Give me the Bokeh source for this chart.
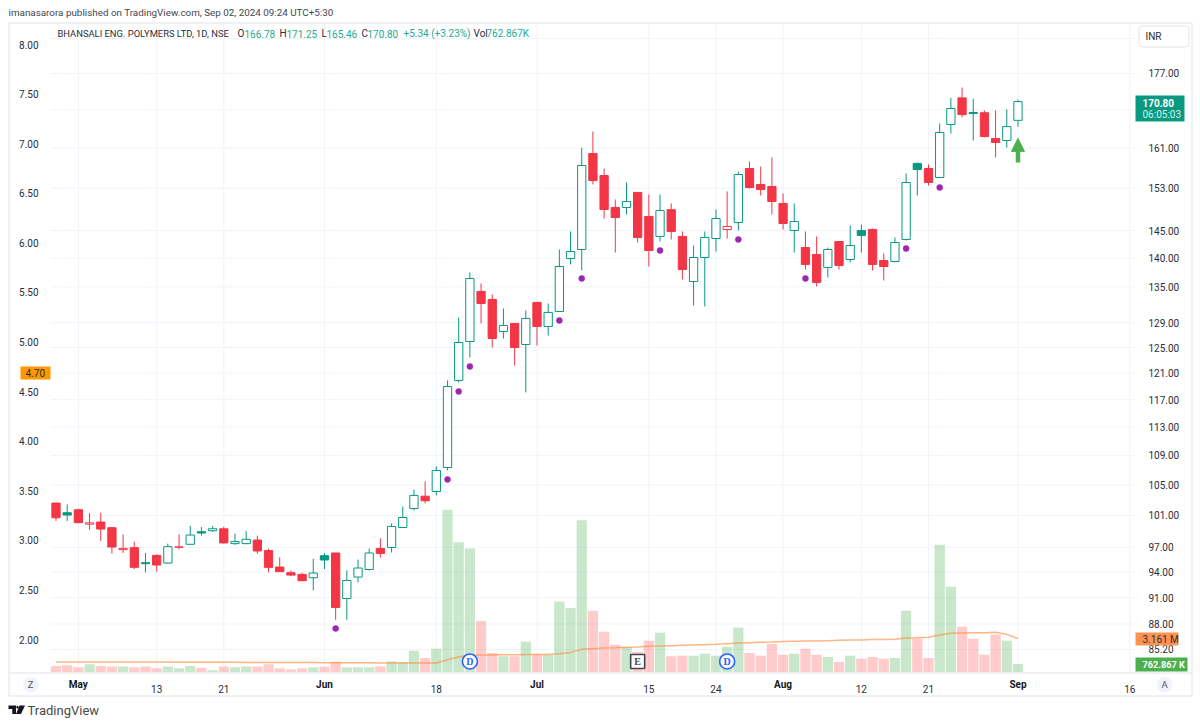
from bokeh.embed import file_html
from bokeh.resources import INLINE
from bokeh.plotting import figure
from bokeh.models import (Arrow, BoxAnnotation, ColumnDataSource, FixedTicker, Label, LinearAxis,
                          LinearScale, NormalHead, NumeralTickFormatter, PolyAnnotation, Range1d)

opens = [102.6,101.35,101.73,99.9,100.16,99.44,96.71,96.95,95.12,96.0,
95.08,97.0,97.37,98.94,99.06,99.3,97.45,97.45,97.9,96.6,
94.6,93.92,93.72,93.32,95.97,96.3,90.9,93.4,94.3,96.86,
96.98,99.47,101.9,103.5,104.12,107.34,119.88,125.96,134.22,132.86,
127.57,128.87,125.48,132.36,128.39,130.85,139.96,141.56,159.9,155.5,
149.32,149.32,152.19,147.62,143.92,148.9,143.92,135.93,140.13,143.55,
145.2,146.5,156.89,153.74,153.35,150.08,145.02,141.92,140.67,138.37,
143.0,139.78,145.02,145.2,139.6,139.42,143.37,157.9,156.89,155.1,
165.9,171.6,168.45,168.4,162.98,162.57,166.78]
highs = [102.7,102.43,101.86,101.3,101.35,99.52,98.6,97.7,96.3,96.14,
97.45,98.6,99.7,99.52,99.65,99.57,98.69,99.02,98.44,96.83,
95.77,94.2,93.92,95.6,96.3,96.3,94.2,95.5,96.85,98.1,
99.98,102.16,104.38,105.46,107.48,119.88,129.86,137.5,135.58,133.7,
131.35,128.9,131.02,132.4,132.19,141.56,144.84,161.1,164.44,156.89,
150.84,154.13,152.2,151.8,151.8,150.08,144.84,142.28,144.84,148.94,
152.38,156.29,158.29,157.29,159.1,151.99,150.08,144.84,143.92,141.92,
143.0,145.94,146.12,145.39,140.85,143.74,155.9,158.09,157.69,166.12,
171.6,173.87,171.4,168.88,168.88,169.1,171.25]
lows = [100.3,100.3,100.04,99.18,97.78,96.22,96.3,94.36,93.96,94.04,
95.0,96.75,97.29,98.44,98.9,97.45,97.29,97.37,96.22,93.96,
94.0,93.56,92.93,91.84,94.36,88.47,88.47,92.77,94.2,95.75,
96.37,99.4,101.64,102.55,103.6,106.94,119.58,123.43,128.87,125.0,
126.44,122.18,118.07,125.3,126.92,130.8,138.9,137.84,153.74,147.24,
141.02,148.0,142.83,138.54,143.0,143.37,136.27,131.85,131.69,141.2,
143.55,145.02,152.96,151.6,148.0,145.2,141.02,138.02,135.07,136.62,
138.02,139.25,141.02,137.84,136.1,139.25,143.19,151.6,153.54,155.0,
164.03,167.4,162.57,163.2,159.1,161.1,165.46]
closes = [100.7,101.05,100.08,100.05,99.27,97.03,96.87,94.56,95.0,94.84,
97.07,97.05,98.52,98.77,99.31,97.54,97.7,97.99,96.55,94.56,
94.04,93.64,92.97,93.88,95.45,89.87,93.0,94.48,96.3,96.25,
99.6,100.74,103.6,102.9,106.94,118.97,125.8,136.45,132.19,126.44,
128.55,125.0,129.7,128.39,130.69,138.54,141.2,157.49,154.52,148.94,
147.43,150.46,143.74,141.38,148.75,144.84,138.02,140.13,143.74,147.24,
145.76,155.7,153.15,152.76,150.46,146.31,146.68,138.9,135.76,141.56,
138.72,142.28,144.1,138.9,138.54,142.83,154.13,156.69,154.13,164.23,
169.31,168.0,168.23,163.4,162.16,165.46,170.8]
prior_close = 102.9

# volume, millions
volumes = [.57,.63,.44,.73,.57,.51,.51,.44,.51,.35,
.51,.35,.57,.41,.16,.51,.44,.51,.51,.73,
.35,.25,.35,.44,.51,.98,.44,.44,.44,.54,
1.01,.95,2.02,1.33,2.21,15.39,12.29,11.72,4.83,1.8,
1.49,1.49,2.88,1.67,1.64,6.67,6.07,14.38,5.81,3.82,
2.59,2.37,1.9,2.97,3.73,1.49,1.55,1.55,1.74,1.55,
2.4,4.2,1.8,1.55,2.65,1.64,1.74,2.21,1.64,1.42,
.95,1.55,1.26,1.42,1.26,1.33,5.81,3.16,1.33,12.07,
8.09,4.3,3.16,1.64,3.54,2.97,.763]
volume_ma = [.95,.95,.95,.95,.95,.95,.95,.95,.95,.94,
.94,.93,.93,.93,.92,.92,.92,.91,.91,.9,
.9,.9,.89,.89,.88,.88,.88,.87,.87,.86,
.86,.86,.85,.85,.85,1.17,1.42,1.61,1.61,1.61,
1.64,1.64,1.67,1.67,1.67,1.74,1.86,2.15,2.21,2.27,
2.3,2.34,2.37,2.43,2.46,2.5,2.53,2.56,2.59,2.62,
2.69,2.75,2.78,2.81,2.84,2.88,2.91,2.94,2.94,2.97,
3.0,3.03,3.03,3.07,3.07,3.1,3.22,3.25,3.29,3.51,
3.67,3.7,3.73,3.73,3.76,3.57,3.161]

# purple dots printed under some bars
dot_bars = [25,35,36,37,45,47,54,61,67,76,79]
dot_prices = [87.5,105.73,118.22,122.03,129.37,136.45,141.38,143.37,136.45,141.74,153.15]

# dividend / earnings events
dividend_bars = [37,60]
earnings_bars = [52]
event_level = 1.0

# axis labels
right_ticks = [177,161,153,145,140,135,129,125,121,117,113,109,105,101,97,94,91,88,85.2]
grid_only_ticks = [185,169]
left_ticks = [2,2.5,3,3.5,4,4.5,5,5.5,6,6.5,7,7.5,8]
day_ticks = {9:"13",15:"21",34:"18",53:"15",59:"24",72:"12",78:"21",96:"16"}
month_ticks = {2:"May",24:"Jun",43:"Jul",65:"Aug",86:"Sep"}

TEAL, RED = "#089981", "#f23645"
GRID = "#f0f3fa"
FONT = "Roboto"
SIZE = "10px"
PANE_X = (-0.49, 96.41)      # bar range of the price pane
PANE_Y = (82.77, 188.6)      # price range of the price pane

n = len(closes)
bars = list(range(n))
prev = [prior_close] + closes[:-1]
up_prev = [c >= p for c, p in zip(closes, prev)]
hollow = [c > o for c, o in zip(closes, opens)]
col = [TEAL if u else RED for u in up_prev]
src = ColumnDataSource(dict(
    x=bars, high=highs, low=lows, color=col,
    top=[max(o, c) for o, c in zip(opens, closes)],
    bot=[min(o, c) for o, c in zip(opens, closes)],
    fill=["#ffffff" if h else k for h, k in zip(hollow, col)],
))
vsrc = ColumnDataSource(dict(
    x=bars, v=volumes, ma=volume_ma,
    color=["#4caf50" if c >= o else "#ff5252" for c, o in zip(closes, opens)],
))

# The frame fills the whole canvas, so the page furniture around the pane is not clipped.
p = figure(width=1200, height=724, output_backend="svg", toolbar_location=None,
           x_range=Range1d(-4.9616, 102.317), y_range=Range1d(77.46, 194.18),
           y_axis_type="log", y_axis_location="right", min_border=0)
p.outline_line_color = None
p.background_fill_color = "#ffffff"
p.border_fill_color = "#ffffff"
p.extra_y_ranges = {"vol": Range1d(-4.977, 63.66), "left": Range1d(1.143, 8.4437)}
p.extra_y_scales = {"vol": LinearScale(), "left": LinearScale()}

# axes
ax = p.yaxis[0]
ax.ticker = FixedTicker(ticks=right_ticks)
ax.formatter = NumeralTickFormatter(format="0.00")
ax.fixed_location = PANE_X[1]
left = LinearAxis(y_range_name="left", ticker=FixedTicker(ticks=left_ticks),
                  formatter=NumeralTickFormatter(format="0.00"), fixed_location=PANE_X[0])
p.add_layout(left, "left")
xa = p.xaxis[0]
xa.fixed_location = PANE_Y[0]
for a in (ax, left, xa):
    a.axis_line_color = None
    a.major_tick_line_color = None
    a.minor_tick_line_color = None
    a.major_label_text_font = FONT
    a.major_label_text_font_size = SIZE
    a.major_label_text_color = "#2a2e39"
ax.major_label_standoff = 8
left.major_label_standoff = 6
xa.ticker = FixedTicker(ticks=list(day_ticks))
xa.major_label_overrides = day_ticks
xa.major_label_standoff = 7

# grid, limited to the price pane
p.grid.visible = False
price_lines = right_ticks + grid_only_ticks
time_lines = list(day_ticks) + list(month_ticks)
p.segment(x0=[PANE_X[0]]*len(price_lines), x1=[PANE_X[1]]*len(price_lines), y0=price_lines, y1=price_lines,
          line_color=GRID, line_width=1)
p.segment(x0=time_lines, x1=time_lines, y0=[PANE_Y[0]]*len(time_lines), y1=[PANE_Y[1]]*len(time_lines),
          line_color=GRID, line_width=1)

# volume
p.vbar(x="x", top="v", bottom=0, width=0.92, source=vsrc, y_range_name="vol",
       fill_color="color", fill_alpha=0.3, line_color=None)
p.line(x="x", y="ma", source=vsrc, y_range_name="vol", line_color="#ff8f3f", line_alpha=0.65, line_width=1.5)

# candles
p.segment(x0="x", x1="x", y0="low", y1="high", source=src, line_color="color", line_width=1)
p.vbar(x="x", top="top", bottom="bot", width=0.74, source=src,
       fill_color="fill", line_color="color", line_width=1)

# signals
p.scatter(dot_bars, dot_prices, size=6, marker="circle", fill_color="#9c27b0", line_color="#9c27b0", line_width=0.5)
p.add_layout(Arrow(x_start=86, y_start=158.1, x_end=86, y_end=163.0, line_color="#4caf50", line_width=4.5,
                   end=NormalHead(size=13, fill_color="#4caf50", line_color="#4caf50")))

# events
p.scatter(dividend_bars, [event_level]*len(dividend_bars), y_range_name="vol", size=15, marker="circle",
          fill_color="#ffffff", line_color="#2962ff", line_width=1.6)
p.text(dividend_bars, [event_level]*len(dividend_bars), text=["D"]*len(dividend_bars), y_range_name="vol",
       text_align="center", text_baseline="middle", text_color="#2962ff", text_font=FONT, text_font_size="10px", text_font_style="bold")
p.scatter(earnings_bars, [event_level]*len(earnings_bars), y_range_name="vol", size=14, marker="square",
          fill_color="#ffffff", line_color="#434651", line_width=1.6)
p.text(earnings_bars, [event_level]*len(earnings_bars), text=["E"]*len(earnings_bars), y_range_name="vol",
       text_align="center", text_baseline="middle", text_color="#434651", text_font=FONT, text_font_size="10px", text_font_style="bold")

# page furniture, in page pixels
def box(x0, y0, x1, y1, fill=None, line=None, radius=0):
    p.add_layout(BoxAnnotation(left=x0, right=x1, top=y0, bottom=y1,
                               left_units="canvas", right_units="canvas", top_units="canvas", bottom_units="canvas",
                               fill_color=fill, fill_alpha=1 if fill else 0, line_color=line, line_width=1,
                               line_alpha=1 if line else 0, border_radius=radius, level="annotation", editable=False))

def text(x, y, s, color="#2a2e39", size=SIZE, align="left", style="normal"):
    p.add_layout(Label(x=x, y=y, x_units="canvas", y_units="canvas", text=s, text_color=color,
                       text_font=FONT, text_font_size=size, text_align=align, text_baseline="middle",
                       text_font_style=style, level="annotation"))

box(8.5, 22.5, 1191.5, 695.5, line="#e0e3eb")
box(8.5, 672, 1191.5, 673, fill="#e0e3eb")

for i, s in month_ticks.items():
    p.add_layout(Label(x=i, y=684, x_units="data", y_units="canvas", text=s, text_color="#131722", text_font=FONT,
                       text_font_size=SIZE, text_font_style="bold", text_align="center", text_baseline="middle",
                       level="annotation"))

text(8, 12, "imanasarora published on TradingView.com, Sep 02, 2024 09:24 UTC+5:30", color="#434651", size="9.85px")
LEG = "#22ab94"
DARK = "#2a2e39"
text(57, 33, "BHANSALI ENG. POLYMERS LTD, 1D, NSE", color=DARK, size="9.4px")
for x, s, c in [(237,"O",DARK),(244,"166.78",LEG),(279,"H",DARK),(286,"171.25",LEG),
                (321,"L",DARK),(326,"165.46",LEG),(361,"C",DARK),(367,"170.80",LEG),(403,"+5.34 (+3.23%)",LEG),
                (473,"Vol",DARK),(486,"762.867K",LEG)]:
    text(x, 33, s, color=c)

box(1138.5, 25.5, 1188.5, 46.5, fill="#ffffff", line="#e0e3eb", radius=4)
text(1145, 36, "INR")

box(1135, 95, 1184, 121, fill=TEAL)
text(1142, 102, "170.80", color="#ffffff", style="bold")
text(1142, 114, "06:05:03", color="#d8f0ea")
box(1135, 632, 1178, 645, fill="#ff9350")
text(1142, 638.5, "3.161 M", color="#2a2e39")
box(1135, 657, 1187, 671, fill="#4caf50")
text(1142, 664, "762.867 K", color="#ffffff", size="9.2px", style="bold")
box(20, 366, 50, 379, fill="#ff9800")
text(25, 372.5, "4.70", color="#2a2e39")

box(22.5, 676.5, 38, 692, fill="#f0f3fa", radius=8)
text(30.2, 684, "Z", color="#50535e", align="center", size="9.5px")
box(1156.5, 676.5, 1172, 692, fill="#f0f3fa", radius=8)
text(1164.2, 684, "A", color="#50535e", align="center", size="9.5px")

# TradingView mark and name
def poly(xs, ys):
    p.add_layout(PolyAnnotation(xs=xs, ys=ys, xs_units="canvas", ys_units="canvas",
                                fill_color="#131722", fill_alpha=1, line_color=None, level="annotation", editable=False))
poly([8,15.5,15.5,11.8,11.8,8],[705,705,713.5,713.5,708.5,708.5])
poly([19,24.5,20.5,15.5],[705,705,713.5,713.5])
box(15.8, 705.5, 18.2, 708, fill="#131722", radius=1)
text(27, 710, "TradingView", color="#4a4a4a", size="13px")

open("out.html", "w").write(file_html(p, INLINE))
